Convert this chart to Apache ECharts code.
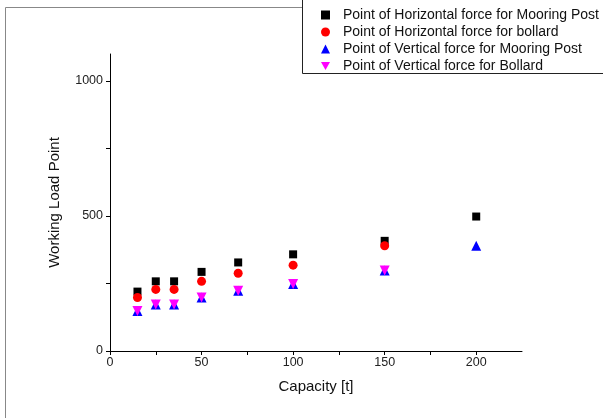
<!DOCTYPE html>
<html>
<head>
<meta charset="utf-8">
<script src="https://cdn.jsdelivr.net/npm/echarts@6/dist/echarts.min.js"></script>
<style>
  html, body { margin: 0; padding: 0; background: #fff; }
  #chart { width: 603px; height: 418px; }
</style>
</head>
<body>
<div id="chart"></div>
<script>
// capacity [t]
var capacity = [15, 25, 35, 50, 70, 100, 150, 200];
var hMooringPost = [220, 258, 258, 293, 328, 358, 408, 498];
var hBollard = [198, 228, 228, 258, 288, 318, 390];
var vMooringPost = [148, 172, 172, 198, 223, 248, 298, 390];
var vBollard = [148, 172, 172, 198, 223, 248, 298];

var seriesNames = [
  'Point of Horizontal force for Mooring Post',
  'Point of Horizontal force for bollard',
  'Point of Vertical force for Mooring Post',
  'Point of Vertical force for Bollard'
];

function pairs(vals) {
  var out = [];
  for (var i = 0; i < vals.length; ++i) {
    out.push([capacity[i], vals[i]]);
  }
  return out;
}

var chart = echarts.init(document.getElementById('chart'));
var font = 'Liberation Sans, Arial, sans-serif';

var option = {
  backgroundColor: '#fff',
  animation: false,
  textStyle: { fontFamily: font },
  graphic: [
    { type: 'rect', shape: { x: 5.5, y: 7.5, width: 620, height: 430 },
      style: { fill: 'none', stroke: '#888', lineWidth: 1 }, z: 0 },
    { type: 'rect', shape: { x: 302.5, y: -2, width: 320, height: 75.5 },
      style: { fill: '#fff', stroke: '#222', lineWidth: 1 }, z: 1 }
  ],
  legend: {
    orient: 'vertical',
    left: 316,
    top: 2,
    itemGap: 1,
    itemWidth: 9,
    itemHeight: 9,
    z: 5,
    textStyle: { fontSize: 14, lineHeight: 16, color: '#111', fontFamily: font, padding: [0, 0, 0, 8] },
    data: [
      { name: seriesNames[0], icon: 'rect' },
      { name: seriesNames[1], icon: 'circle' },
      { name: seriesNames[2], icon: 'triangle' },
      { name: seriesNames[3], icon: 'path://M0,0 L10,0 L5,9 Z' }
    ]
  },
  grid: { left: 110, top: 54, right: 81, bottom: 67 },
  xAxis: {
    type: 'value',
    min: 0,
    max: 225,
    interval: 25,
    name: 'Capacity [t]',
    nameLocation: 'middle',
    nameGap: 28,
    nameTextStyle: { fontSize: 15, color: '#111' },
    axisLine: { show: true, onZero: false, lineStyle: { color: '#000', width: 1 } },
    axisTick: { show: true, length: 4, lineStyle: { color: '#000' } },
    axisLabel: {
      color: '#222', fontSize: 12.5, margin: 5, showMaxLabel: false,
      formatter: function (v) { return v % 50 === 0 ? String(v) : ''; }
    },
    splitLine: { show: false }
  },
  yAxis: {
    type: 'value',
    min: 0,
    max: 1100,
    interval: 250,
    name: 'Working Load Point',
    nameLocation: 'middle',
    nameGap: 48,
    nameTextStyle: { fontSize: 15, color: '#111' },
    axisLine: { show: true, onZero: false, lineStyle: { color: '#000', width: 1 } },
    axisTick: { show: true, length: 4, lineStyle: { color: '#000' } },
    axisLabel: {
      color: '#222', fontSize: 12.5, margin: 7, showMaxLabel: false,
      formatter: function (v) { return v % 500 === 0 ? String(v) : ''; }
    },
    splitLine: { show: false }
  },
  series: [
    {
      name: seriesNames[0], type: 'scatter', symbol: 'rect', symbolSize: 8,
      itemStyle: { color: '#000', opacity: 1 }, data: pairs(hMooringPost), z: 2
    },
    {
      name: seriesNames[1], type: 'scatter', symbol: 'circle', symbolSize: 9,
      itemStyle: { color: '#f00', opacity: 1 }, data: pairs(hBollard), z: 3
    },
    {
      name: seriesNames[2], type: 'scatter', symbol: 'triangle', symbolSize: 10,
      itemStyle: { color: '#00f', opacity: 1 }, data: pairs(vMooringPost), z: 2
    },
    {
      name: seriesNames[3], type: 'scatter', symbol: 'triangle', symbolRotate: 180, symbolSize: 10,
      itemStyle: { color: '#f0f', opacity: 1 }, data: pairs(vBollard), z: 4
    }
  ]
};

chart.setOption(option);
</script>
</body>
</html>
